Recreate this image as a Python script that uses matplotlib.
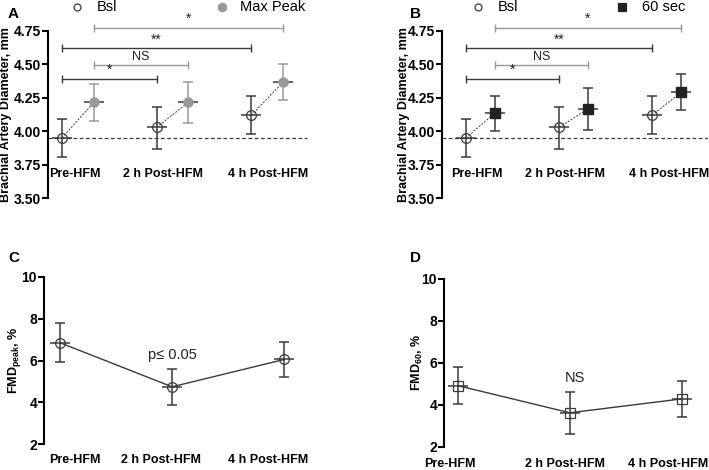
import matplotlib
matplotlib.use("Agg")
import matplotlib.pyplot as plt
import numpy as np

plt.rcParams['font.family'] = ['Liberation Sans', 'DejaVu Sans']

categories = ["Pre-HFM", "2 h Post-HFM", "4 h Post-HFM"]

# Panel A / B: baseline diameter (mm)
bsl_mean = [3.95, 4.03, 4.12]
bsl_lo = [3.81, 3.87, 3.98]
bsl_hi = [4.09, 4.18, 4.26]
# Panel A: max peak diameter
peak_mean = [4.215, 4.215, 4.365]
peak_lo = [4.075, 4.06, 4.23]
peak_hi = [4.35, 4.37, 4.50]
# Panel B: 60 sec diameter
sec60_mean = [4.135, 4.165, 4.29]
sec60_lo = [4.00, 4.01, 4.16]
sec60_hi = [4.265, 4.32, 4.425]
baseline_ref = 3.95

# Panel C: FMD peak (%)
fmdp_mean = [6.85, 4.74, 6.05]
fmdp_lo = [5.93, 3.89, 5.20]
fmdp_hi = [7.82, 5.60, 6.91]
# Panel D: FMD 60 (%)
fmd60_mean = [4.92, 3.63, 4.29]
fmd60_lo = [4.03, 2.62, 3.44]
fmd60_hi = [5.82, 4.63, 5.16]

# significance brackets: (start category, start series, end category, end series, level, label)
brackets = [
    (0, "bsl", 1, "bsl", 4.39, "*"),
    (0, "peak", 1, "peak", 4.497, "NS"),
    (0, "bsl", 2, "bsl", 4.62, "**"),
    (0, "peak", 2, "peak", 4.776, "*"),
]

DARK = "#3a3a3a"
LIGHT = "#9a9a9a"

fig = plt.figure(figsize=(7.09, 4.70), dpi=100)


def style_axis(ax, yticks, bounds):
    for s in ["top", "right", "bottom"]:
        ax.spines[s].set_visible(False)
    ax.spines["left"].set_linewidth(1.5)
    ax.spines["left"].set_bounds(*bounds)
    ax.set_yticks(yticks)
    ax.tick_params(axis="y", length=4, width=1.5, labelsize=10, pad=1)
    for t in ax.get_yticklabels():
        t.set_fontweight("bold")


def diameter_panel(ax, second_mean, second_lo, second_hi, second_color, second_marker,
                   second_err_color, offset, xlim, dash_end, label_off, ylab_x):
    x = np.arange(len(categories))
    xs = x + offset
    ax.set_xlim(*xlim)
    ax.set_ylim(3.5, 4.75)
    style_axis(ax, [3.5, 3.75, 4.0, 4.25, 4.5, 4.75], (3.5, 4.75))
    ax.set_xticks([])
    # baseline dashed line
    ax.hlines(baseline_ref, xlim[0], dash_end, colors=DARK, linestyles=(0, (3, 2)), lw=0.9)
    # connecting dashed lines
    for i in range(len(categories)):
        ax.plot([x[i], xs[i]], [bsl_mean[i], second_mean[i]], ls=(0, (2, 1.5)), color=DARK, lw=0.7, zorder=3)
    # error bars
    ax.errorbar(x, bsl_mean, yerr=[np.subtract(bsl_mean, bsl_lo), np.subtract(bsl_hi, bsl_mean)],
                fmt="none", ecolor=DARK, elinewidth=1.1, capsize=3.6, capthick=1.1, zorder=2)
    ax.errorbar(xs, second_mean, yerr=[np.subtract(second_mean, second_lo), np.subtract(second_hi, second_mean)],
                fmt="none", ecolor=second_err_color, elinewidth=1.1, capsize=3.6, capthick=1.1, zorder=2)
    # mean dashes
    ax.plot(x, bsl_mean, ls="none", marker="_", ms=15, mew=1.1, color=DARK, zorder=4)
    ax.plot(xs, second_mean, ls="none", marker="_", ms=15, mew=1.1, color=DARK, zorder=4)
    ax.plot(x, bsl_mean, ls="none", marker="o", ms=7, mfc="none", mec=DARK, mew=0.9, zorder=5)
    ax.plot(xs, second_mean, ls="none", marker=second_marker, ms=6.5, mfc=second_color,
            mec=second_color, zorder=5)
    # category labels
    for i, c in enumerate(categories):
        ax.text(x[i] + label_off[i], 3.68, c, ha="center", va="center", fontsize=9, fontweight="bold")
    # brackets
    for (c0, s0, c1, s1, lvl, lab) in brackets:
        xa = x[c0] + (offset if s0 != "bsl" else 0)
        xb = x[c1] + (offset if s1 != "bsl" else 0)
        col = DARK if s0 == "bsl" else LIGHT
        ax.plot([xa, xb], [lvl, lvl], color=col, lw=1.0, clip_on=False)
        ax.plot([xa, xb], [lvl, lvl], ls="none", marker="|", ms=6, mew=1.0, color=col, clip_on=False)
        ax.text((xa + xb) / 2, lvl + 0.015, lab, ha="center", va="bottom",
                fontsize=9 if lab == "NS" else 10, color="#222222")
    ax.set_ylabel("Brachial Artery Diameter, mm", fontsize=9, fontweight="bold")
    ax.yaxis.set_label_coords(ylab_x, 0.5)


# Panel A
axA = fig.add_axes([48 / 709, 1 - 198 / 470, 260 / 709, 167 / 470])
diameter_panel(axA, peak_mean, peak_lo, peak_hi, "#999999", "o", LIGHT, 0.335,
               (-0.148, 2.60), 2.59, [0.14, 0.07, 0.18], -0.14)
# Panel B
axB = fig.add_axes([442 / 709, 1 - 198 / 470, 266 / 709, 167 / 470])
diameter_panel(axB, sec60_mean, sec60_lo, sec60_hi, "#222222", "s", DARK, 0.31,
               (-0.258, 2.60), 2.60, [0.12, 0.06, 0.18], -0.12)


def fmd_panel(ax, mean, lo, hi, marker, xlim, ylabel, pad, label_off, ylab_x):
    x = np.arange(len(categories))
    ax.set_xlim(*xlim)
    ax.set_ylim(2, 10)
    style_axis(ax, [2, 4, 6, 8, 10], (2, 10))
    ax.plot(x, mean, color=DARK, lw=1.0, zorder=3)
    ax.errorbar(x, mean, yerr=[np.subtract(mean, lo), np.subtract(hi, mean)], fmt="none",
                ecolor=DARK, elinewidth=1.1, capsize=3.6, capthick=1.1, zorder=2)
    ax.plot(x, mean, ls="none", marker="_", ms=15, mew=1.1, color=DARK, zorder=4)
    ax.plot(x, mean, ls="none", marker=marker, ms=7 if marker == "o" else 6.5, mfc="none",
            mec=DARK, mew=0.9, zorder=5)
    ax.set_xticks(x + np.array(label_off))
    ax.set_xticklabels(categories, fontsize=9, fontweight="bold")
    ax.tick_params(axis="x", length=0, pad=pad)
    ax.set_ylabel(ylabel, fontsize=9, fontweight="bold")
    ax.yaxis.set_label_coords(ylab_x, 0.5)


axC = fig.add_axes([44 / 709, 1 - 444 / 470, 285 / 709, 167 / 470])
fmd_panel(axC, fmdp_mean, fmdp_lo, fmdp_hi, "o", (-0.143, 2.40), r"FMD$_{\mathregular{peak}}$, %", 7,
          [0.13, -0.1, -0.14], -0.074)
axC.text(1, 6.25, "p\u2264 0.05", ha="center", va="center", fontsize=10.5, color="#222222")

axD = fig.add_axes([444 / 709, 1 - 447 / 470, 260 / 709, 168 / 470])
fmd_panel(axD, fmd60_mean, fmd60_lo, fmd60_hi, "s", (-0.125, 2.20), r"FMD$_{\mathregular{60}}$, %", 8,
          [-0.07, -0.045, -0.125], -0.073)
axD.text(1.05, 5.3, "NS", ha="center", va="center", fontsize=10.5, color="#222222")

# panel letters
for lab, (px, py) in zip("ABCD", [(8, 14), (410, 14), (8, 258), (410, 258)]):
    fig.text(px / 709, 1 - py / 470, lab, fontsize=11, fontweight="bold", va="center", ha="left")

# legends
def legend_item(px, py, marker, fc, ec, ms, text, tx):
    fig.add_artist(plt.Line2D([px / 709], [1 - py / 470], marker=marker, ms=ms, mfc=fc, mec=ec,
                              mew=0.9, ls="none", transform=fig.transFigure))
    fig.text(tx / 709, 1 - py / 470, text, fontsize=10.5, va="center", ha="left")

legend_item(77, 7, "o", "none", DARK, 5, "Bsl", 97)
legend_item(222, 7, "o", "#999999", "#999999", 6, "Max Peak", 240)
legend_item(478, 7, "o", "none", DARK, 5, "Bsl", 498)
legend_item(622, 7, "s", "#222222", "#222222", 6, "60 sec", 642)

fig.savefig("out.png", dpi=100)
